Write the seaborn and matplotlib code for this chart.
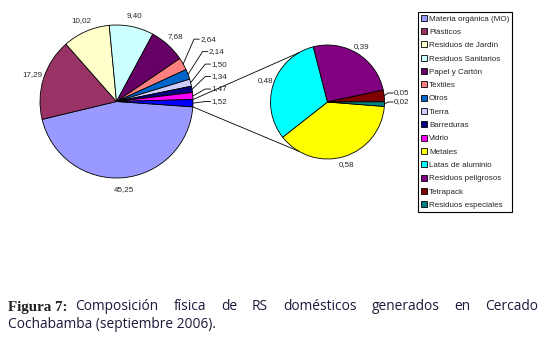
import numpy as np
import matplotlib
matplotlib.use("Agg")
import matplotlib.pyplot as plt
import seaborn as sns

# Data (pie of pie)
main_labels = ["Materia orgánica (MO)", "Plásticos", "Residuos de Jardín", "Residuos Sanitarios",
               "Papel y Cartón", "Textiles", "Otros", "Tierra", "Barreduras", "Vidrio"]
main_values = [45.25, 17.29, 10.02, 9.40, 7.68, 2.64, 2.14, 1.50, 1.34, 1.47]
sub_labels = ["Metales", "Latas de aluminio", "Residuos peligrosos", "Tetrapack", "Residuos especiales"]
sub_values = [0.58, 0.48, 0.39, 0.05, 0.02]
other_value = 1.52

main_colors = ["#9999FF", "#993366", "#FFFFCC", "#CCFFFF", "#660066",
               "#FF8080", "#0066CC", "#CCCCFF", "#000080", "#FF00FF"]
sub_colors = ["#FFFF00", "#00FFFF", "#800080", "#800000", "#008080"]
other_color = "#0000FF"

sns.set_theme(style="white")
plt.rcParams["font.family"] = ["Liberation Sans", "DejaVu Sans"]

fig = plt.figure(figsize=(5.51, 3.38), dpi=100)
W, H = 551, 338
scale = 76.5  # pixels per unit radius of the main pie
cx, cy = 116.5, 101.5
ax = fig.add_axes([0, 1 - 230 / H, 416 / W, 230 / H])

edge = dict(edgecolor="black", linewidth=0.6)
start = -4.0
vals1 = main_values + [other_value]
cols1 = sns.color_palette(main_colors + [other_color])
w1, _ = ax.pie(vals1, colors=cols1, startangle=start, counterclock=False,
               radius=1.0, center=(0, 0), wedgeprops=edge)

r2 = 57 / scale
c2 = ((327.5 - cx) / scale, -(102 - cy) / scale)
w2, _ = ax.pie(sub_values, colors=sns.color_palette(sub_colors), startangle=-4.5,
               counterclock=False, radius=r2, center=c2, wedgeprops=edge)

ax.set_xlim(-cx / scale, (416 - cx) / scale)
ax.set_ylim((cy - 230) / scale, cy / scale)
ax.set_aspect("auto")
ax.axis("off")

fs = 5.8


def fmt(v):
    return f"{v:.2f}".replace(".", ",")


def label_pie(wedges, values, center, radius, small_lim, max_x):
    small = [i for i, v in enumerate(values) if v < small_lim]
    # stacked labels for the thin slices, from the last one upwards
    for k, i in enumerate(reversed(small)):
        wd = wedges[i]
        mid = np.deg2rad((wd.theta1 + wd.theta2) / 2)
        px = center[0] + radius * np.cos(mid)
        py = center[1] + radius * np.sin(mid)
        ty = k * 0.158 * radius / 1.0 if radius < 1 else k * 0.163
        ty_abs = center[1] + ty
        tx = min(max_x, np.sqrt(max((1.3 * radius) ** 2 - ty ** 2, 0)))
        tx_abs = center[0] + tx
        ax.plot([px, tx_abs, tx_abs + 0.07], [py, ty_abs, ty_abs], color="black", lw=0.6)
        ax.text(tx_abs + 0.08, ty_abs, fmt(values[i]), fontsize=fs, ha="left", va="center")
    for i, v in enumerate(values):
        if i in small:
            continue
        wd = wedges[i]
        mid = np.deg2rad((wd.theta1 + wd.theta2) / 2)
        ax.text(center[0] + 1.15 * radius * np.cos(mid), center[1] + 1.15 * radius * np.sin(mid),
                fmt(v), fontsize=fs, ha="center", va="center")


label_pie(w1, vals1, (0, 0), 1.0, 3.0, 1.16)
label_pie(w2, sub_values, c2, r2, 0.1, 1.06 * r2)

# connector lines between the "other" slice and the second pie
ow = w1[-1]
for th_main, th_sub in [(ow.theta2, 120), (ow.theta1, -120)]:
    a = np.deg2rad(th_main)
    b = np.deg2rad(th_sub)
    ax.plot([np.cos(a), c2[0] + r2 * np.cos(b)], [np.sin(a), c2[1] + r2 * np.sin(b)],
            color="black", lw=0.6)

leg = fig.legend(list(w1[:-1]) + list(w2), main_labels + sub_labels,
                 loc="upper left", bbox_to_anchor=(418 / W, 1 - 12 / H),
                 frameon=True, fancybox=False, edgecolor="black", framealpha=1,
                 fontsize=5.8, handlelength=0.75, handleheight=0.75, handletextpad=0.25,
                 labelspacing=0.69, borderpad=0.35, borderaxespad=0)
leg.get_frame().set_linewidth(0.8)

# justified caption
renderer = fig.canvas.get_renderer()
cap_fs = 9.9
sans = ["Open Sans", "DejaVu Sans"]
y1 = 1 - 307 / H
y2 = 1 - 325 / H
left, right = 8, 538

t0 = fig.text(left / W, y1, "Figura 7:", fontsize=10.8, family=["Liberation Serif"],
              fontweight="bold", ha="left", va="center", color="#222222")
x = t0.get_window_extent(renderer).x1 + 8
words = ["Composición", "física", "de", "RS", "domésticos", "generados", "en", "Cercado"]
texts = [fig.text(0, y1, w, fontsize=cap_fs, family=sans, ha="left", va="center",
                  color="#1a1a3a") for w in words]
widths = [t.get_window_extent(renderer).width for t in texts]
gap = (right - x - sum(widths)) / (len(words) - 1)
for t, wd in zip(texts, widths):
    t.set_x(x / W)
    x += wd + gap

fig.text(left / W, y2, "Cochabamba (septiembre 2006).", fontsize=cap_fs, family=sans,
         ha="left", va="center", color="#1a1a3a")

fig.savefig("out.png", dpi=100)
